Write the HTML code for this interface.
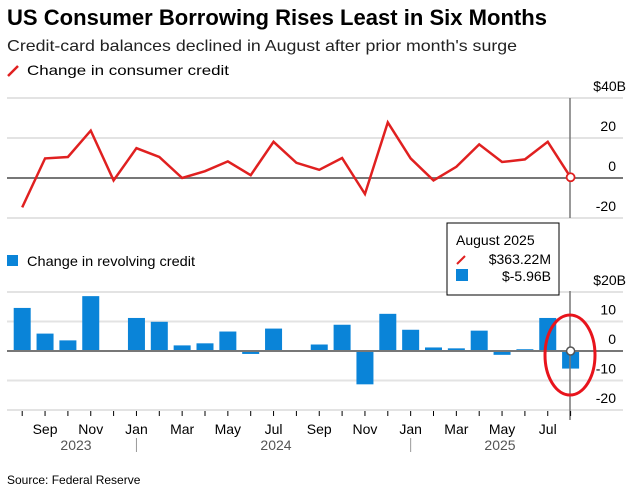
<!DOCTYPE html>
<html><head><meta charset="utf-8"><style>
body{margin:0;background:#fff;font-family:"Liberation Sans",sans-serif;}
svg{display:block}
</style></head><body>
<svg width="637" height="499" viewBox="0 0 637 499">
<text x="7" y="25" font-size="22" font-weight="bold" fill="#000" textLength="540" lengthAdjust="spacingAndGlyphs">US Consumer Borrowing Rises Least in Six Months</text>
<text x="7" y="51" font-size="16" fill="#222" textLength="510" lengthAdjust="spacingAndGlyphs">Credit-card balances declined in August after prior month's surge</text>
<g><line x1="8" y1="76" x2="18" y2="66" stroke="#e02020" stroke-width="2.5"/><text x="27" y="75" font-size="14" fill="#000" textLength="202" lengthAdjust="spacingAndGlyphs">Change in consumer credit</text></g>
<g><rect x="7" y="255" width="11" height="11" fill="#0a84d8"/><text x="27" y="266" font-size="14" fill="#000" textLength="168" lengthAdjust="spacingAndGlyphs">Change in revolving credit</text></g>
<g id="topPanel"></g>
<g id="botPanel"></g>
<g id="xaxis"></g>
<g>
<rect x="447" y="223" width="112" height="72" fill="#fff" stroke="#000" stroke-width="1"/>
<text x="456" y="245" font-size="14" fill="#000">August 2025</text>
<line x1="457" y1="264" x2="465" y2="256" stroke="#e02020" stroke-width="2"/>
<text x="551" y="264" font-size="14" text-anchor="end" fill="#000">$363.22M</text>
<rect x="456" y="269" width="12" height="12" fill="#0a84d8"/>
<text x="551" y="281" font-size="14" text-anchor="end" fill="#000">$-5.96B</text>
</g>
<ellipse cx="570" cy="355" rx="25" ry="40" fill="none" stroke="#e8141c" stroke-width="3"/>
<text x="7" y="484" font-size="12" fill="#000">Source: Federal Reserve</text>
</svg>
<script>
const months=["Aug","Sep","Oct","Nov","Dec","Jan","Feb","Mar","Apr","May","Jun","Jul","Aug","Sep","Oct","Nov","Dec","Jan","Feb","Mar","Apr","May","Jun","Jul","Aug"];
const consumer=[-14.7,9.8,10.5,23.7,-1.2,14.9,10.5,0,3.4,8.3,1.4,18.1,7.6,4.1,10,-8,27.8,9.8,-1.2,5.6,16.8,8,9.3,18.1,0.36];
const revolving=[14.6,5.9,3.6,18.6,-0.2,11.2,9.9,1.9,2.6,6.6,-1,7.6,0.2,2.2,8.9,-11.3,12.6,7.2,1.2,0.9,6.9,-1.3,0.6,11.2,-5.96];
const topTicks=[40,20,0,-20];
const botTicks=[20,10,0,-10,-20];
const labelIdx=[1,3,5,7,9,11,13,15,17,19,21,23];
const NS="http://www.w3.org/2000/svg";
function mk(p,t,a){const e=document.createElementNS(NS,t);for(const k in a)e.setAttribute(k,a[k]);p.appendChild(e);return e;}
const xS=i=>22.2+i*22.85;
const yT=v=>178-v*2;
const yB=v=>351-v*2.95;
const tp=document.getElementById('topPanel'),bp=document.getElementById('botPanel'),xa=document.getElementById('xaxis');
topTicks.forEach(t=>{
 const g=mk(tp,'line',{x1:7,x2:623,y1:yT(t),y2:yT(t),stroke:t===0?'#777':'#e3e3e3','stroke-width':2});
 
 
 const tx=mk(tp,'text',{x:t===40?626:616,y:yT(t)-7,'font-size':14,'text-anchor':'end',fill:'#000'});
 tx.textContent=t===40?'$40B':String(t);
 
 
});
mk(tp,'line',{x1:570,x2:570,y1:98,y2:218,stroke:'#777','stroke-width':1.5});
const pts=consumer.map((v,i)=>xS(i)+','+yT(v)).join(' ');
const pl=mk(tp,'polyline',{points:pts,fill:'none',stroke:'#e02020','stroke-width':2.5});


const c1=mk(tp,'circle',{cx:xS(24),cy:yT(consumer[24]),r:4,fill:'#fff',stroke:'#e02020','stroke-width':1.8});


botTicks.forEach(t=>{
 const g=mk(bp,'line',{x1:7,x2:623,y1:yB(t),y2:yB(t),stroke:'#e3e3e3','stroke-width':2});
 
 
 const tx=mk(bp,'text',{x:t===20?626:616,y:yB(t)-7,'font-size':14,'text-anchor':'end',fill:'#000'});
 tx.textContent=t===20?'$20B':String(t);
 
 
});
revolving.forEach((v,i)=>{
 const r=mk(bp,'rect',{x:xS(i)-8.5,width:17,y:Math.min(yB(v),yB(0)),height:Math.max(1,Math.abs(yB(v)-yB(0))),fill:'#0a84d8'});
 
 
});
mk(bp,'line',{x1:7,x2:623,y1:yB(0),y2:yB(0),stroke:'#777','stroke-width':2});
mk(bp,'line',{x1:570,x2:570,y1:291,y2:420,stroke:'#777','stroke-width':1.5});
const c2=mk(bp,'circle',{cx:xS(24),cy:yB(0),r:4,fill:'#fff',stroke:'#555','stroke-width':1.5});


months.forEach((m,i)=>{
 const tk=mk(xa,'line',{x1:xS(i),x2:xS(i),y1:411,y2:416,stroke:'#000','stroke-width':1});
 
 
});
labelIdx.forEach(i=>{
 const t=mk(xa,'text',{x:xS(i),y:434,'font-size':14,'text-anchor':'middle',fill:'#000'});
 t.textContent=months[i];
 
 
});
[["2023",76],["2024",276],["2025",500]].forEach(([y,px])=>{
 const t=mk(xa,'text',{x:px,y:450,'font-size':14,'text-anchor':'middle',fill:'#555'});
 t.textContent=y;
 
 
});
[5,17].forEach(i=>mk(xa,'line',{x1:xS(i),x2:xS(i),y1:438,y2:452,stroke:'#999','stroke-width':1}));
</script>
</body></html>
